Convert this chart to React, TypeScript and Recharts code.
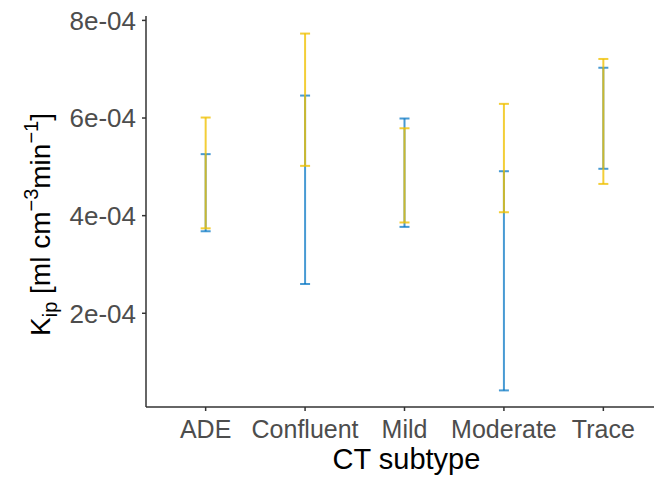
import { ScatterChart, Scatter, XAxis, YAxis, ErrorBar } from "recharts";

const categories = ["ADE", "Confluent", "Mild", "Moderate", "Trace"];

// blue series (lower / upper ends of each interval)
const blueLow = [3.68e-4, 2.6e-4, 3.77e-4, 0.42e-4, 4.96e-4];
const blueHigh = [5.26e-4, 6.46e-4, 5.99e-4, 4.91e-4, 7.03e-4];

// yellow series
const yellowLow = [3.74e-4, 5.02e-4, 3.86e-4, 4.07e-4, 4.65e-4];
const yellowHigh = [6.01e-4, 7.73e-4, 5.79e-4, 6.29e-4, 7.21e-4];

const yTicks = [2e-4, 4e-4, 6e-4, 8e-4];
const yTickLabels = ["2e-04", "4e-04", "6e-04", "8e-04"];

const BLUE = "#0073C2";
const YELLOW = "#EFC000";
const FONT = "'Liberation Sans', Arial, Helvetica, sans-serif";

function toRows(low: number[], high: number[]) {
  return categories.map((_, i) => {
    const mid = (low[i] + high[i]) / 2;
    return { x: i + 1, y: mid, err: [mid - low[i], high[i] - mid] };
  });
}

const blueData = toRows(blueLow, blueHigh);
const yellowData = toRows(yellowLow, yellowHigh);

const noPoint = () => <g />;

function YTitle(props: any) {
  const vb = props.viewBox || { x: 0, y: 16, width: 146, height: 391 };
  const cx = 50;
  const cy = vb.y + vb.height / 2 + 13;
  return (
    <text
      x={cx}
      y={cy}
      transform={`rotate(-90, ${cx}, ${cy})`}
      textAnchor="middle"
      fontFamily={FONT}
      fontSize={28}
      fill="#000"
    >
      K
      <tspan fontSize={20} dy={7}>ip</tspan>
      <tspan dy={-7}> [ml cm</tspan>
      <tspan fontSize={20} dy={-12}>−3</tspan>
      <tspan dy={12}>min</tspan>
      <tspan fontSize={20} dy={-12}>−1</tspan>
      <tspan dy={12}>]</tspan>
    </text>
  );
}

function XTitle(props: any) {
  const vb = props.viewBox || { x: 146, y: 407, width: 517, height: 70 };
  return (
    <text
      x={vb.x + vb.width / 2 + 2}
      y={469}
      textAnchor="middle"
      fontFamily={FONT}
      fontSize={29}
      fill="#000"
    >
      CT subtype
    </text>
  );
}

export default function App() {
  return (
    <div
      style={{
        position: "absolute",
        left: 0,
        top: 0,
        width: 654,
        height: 477,
        overflow: "hidden",
        background: "#fff",
      }}
    >
      <ScatterChart
        width={680}
        height={477}
        margin={{ top: 16, right: 17, bottom: 0, left: 0 }}
      >
        <XAxis
          type="number"
          dataKey="x"
          domain={[0.4, 5.6]}
          ticks={[1, 2, 3, 4, 5]}
          tickFormatter={(v: number) => categories[v - 1]}
          allowDataOverflow
          height={70}
          stroke="#333"
          strokeWidth={1.5}
          tickSize={4}
          tickMargin={9}
          tick={{ fill: "#4d4d4d", fontSize: 25, fontFamily: FONT }}
          interval={0}
          label={{ content: XTitle }}
        />
        <YAxis
          type="number"
          dataKey="y"
          domain={[0.08e-4, 8.09e-4]}
          ticks={yTicks}
          tickFormatter={(v: number) => yTickLabels[yTicks.indexOf(v)] ?? ""}
          allowDataOverflow
          width={146}
          stroke="#333"
          strokeWidth={1.5}
          tickSize={4}
          tickMargin={6}
          tick={{ fill: "#4d4d4d", fontSize: 26, fontFamily: FONT }}
          interval={0}
          label={{ content: YTitle }}
        />
        <Scatter data={blueData} shape={noPoint} isAnimationActive={false}>
          <ErrorBar
            dataKey="err"
            direction="y"
            width={5}
            stroke={BLUE}
            strokeWidth={2}
            strokeOpacity={0.72}
            isAnimationActive={false}
          />
        </Scatter>
        <Scatter data={yellowData} shape={noPoint} isAnimationActive={false}>
          <ErrorBar
            dataKey="err"
            direction="y"
            width={5}
            stroke={YELLOW}
            strokeWidth={2}
            strokeOpacity={0.78}
            isAnimationActive={false}
          />
        </Scatter>
      </ScatterChart>
    </div>
  );
}
